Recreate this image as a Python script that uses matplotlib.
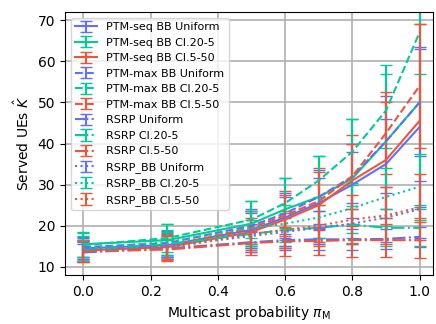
import numpy as np
import matplotlib
matplotlib.use('Agg')
import matplotlib.pyplot as plt

x = [0.0, 0.25, 0.5, 0.6, 0.7, 0.8, 0.9, 1.0]

labels = [
    "PTM-seq BB Uniform", "PTM-seq BB Cl.20-5", "PTM-seq BB Cl.5-50",
    "PTM-max BB Uniform", "PTM-max BB Cl.20-5", "PTM-max BB Cl.5-50",
    "RSRP Uniform", "RSRP Cl.20-5", "RSRP Cl.5-50",
    "RSRP_BB Uniform", "RSRP_BB Cl.20-5", "RSRP_BB Cl.5-50",
]

# mean served UEs
seq_uni = [14.5, 15.3, 19.0, 22.0, 25.5, 30.0, 35.0, 44.0]
seq_c20 = [15.5, 16.5, 20.5, 24.0, 27.0, 31.5, 40.5, 50.0]
seq_c5 = [14.0, 14.8, 18.5, 21.5, 25.0, 31.0, 36.0, 45.5]
max_uni = [14.8, 15.8, 20.0, 23.0, 27.0, 32.0, 40.5, 50.0]
max_c20 = [15.3, 17.0, 21.5, 25.5, 31.0, 38.0, 48.0, 67.0]
max_c5 = [14.0, 15.0, 19.5, 22.5, 26.0, 32.0, 42.5, 54.0]
rsrp_uni = [13.5, 14.5, 16.0, 16.5, 16.7, 16.7, 16.8, 17.3]
rsrp_c20 = [14.0, 15.5, 18.0, 19.0, 19.5, 20.3, 19.5, 19.5]
rsrp_c5 = [13.8, 14.2, 15.8, 16.2, 16.3, 16.5, 16.5, 16.5]
bb_uni = [14.0, 15.0, 17.5, 18.5, 19.5, 20.5, 22.0, 24.0]
bb_c20 = [14.5, 16.0, 19.5, 20.5, 22.0, 24.3, 27.0, 29.5]
bb_c5 = [13.8, 14.5, 18.0, 19.0, 20.0, 21.5, 22.5, 24.5]

# standard deviations
seq_uni_err = [2.5, 3.0, 4.0, 5.0, 6.0, 8.0, 11.0, 19.5]
seq_c20_err = [3.0, 4.0, 5.5, 7.5, 10.0, 14.5, 18.5, 25.0]
seq_c5_err = [2.5, 3.0, 5.0, 7.0, 9.0, 11.0, 14.0, 23.5]
max_uni_err = [2.5, 3.0, 4.0, 5.0, 6.5, 8.0, 11.0, 13.0]
max_c20_err = [3.0, 3.5, 4.5, 6.0, 6.0, 8.0, 9.0, 10.0]
max_c5_err = [2.5, 3.0, 4.0, 5.0, 7.0, 8.0, 10.0, 15.0]
rsrp_uni_err = [2.0, 2.0, 2.5, 2.5, 2.5, 2.5, 2.5, 2.5]
rsrp_c20_err = [2.5, 3.0, 3.5, 4.0, 4.0, 4.5, 4.5, 4.5]
rsrp_c5_err = [2.5, 2.5, 3.0, 3.5, 3.5, 4.0, 4.0, 4.3]
bb_uni_err = [2.0, 2.5, 3.0, 3.5, 4.0, 5.0, 6.0, 7.0]
bb_c20_err = [3.0, 3.0, 4.0, 4.5, 5.0, 6.0, 7.0, 8.0]
bb_c5_err = [2.5, 3.0, 4.0, 4.5, 5.0, 6.0, 7.0, 8.0]

means = [seq_uni, seq_c20, seq_c5, max_uni, max_c20, max_c5,
         rsrp_uni, rsrp_c20, rsrp_c5, bb_uni, bb_c20, bb_c5]
errs = [seq_uni_err, seq_c20_err, seq_c5_err, max_uni_err, max_c20_err, max_c5_err,
        rsrp_uni_err, rsrp_c20_err, rsrp_c5_err, bb_uni_err, bb_c20_err, bb_c5_err]

colors = ['#636efa', '#00cc96', '#ef553b']
styles = ['-', '--', '-.', ':']

fig = plt.figure(figsize=(4.36, 3.24), dpi=100)
ax = fig.add_axes([0.149, 0.151, 0.844, 0.812])
for i in range(len(labels)):
    ax.errorbar(x, means[i], yerr=errs[i], color=colors[i % 3],
                linestyle=styles[i // 3], lw=1.5, capsize=4, label=labels[i])
ax.set_ylim(8, 72)
ax.set_xlim(-0.055, 1.04)
ax.set_xlabel(r"Multicast probability $\pi_\mathrm{M}$")
ax.set_ylabel(r"Served UEs $\hat{K}$")
ax.grid(True, color='#b0b0b0', lw=1.2)
ax.legend(loc='upper left', fontsize=8)
fig.savefig("out.png", dpi=100)
